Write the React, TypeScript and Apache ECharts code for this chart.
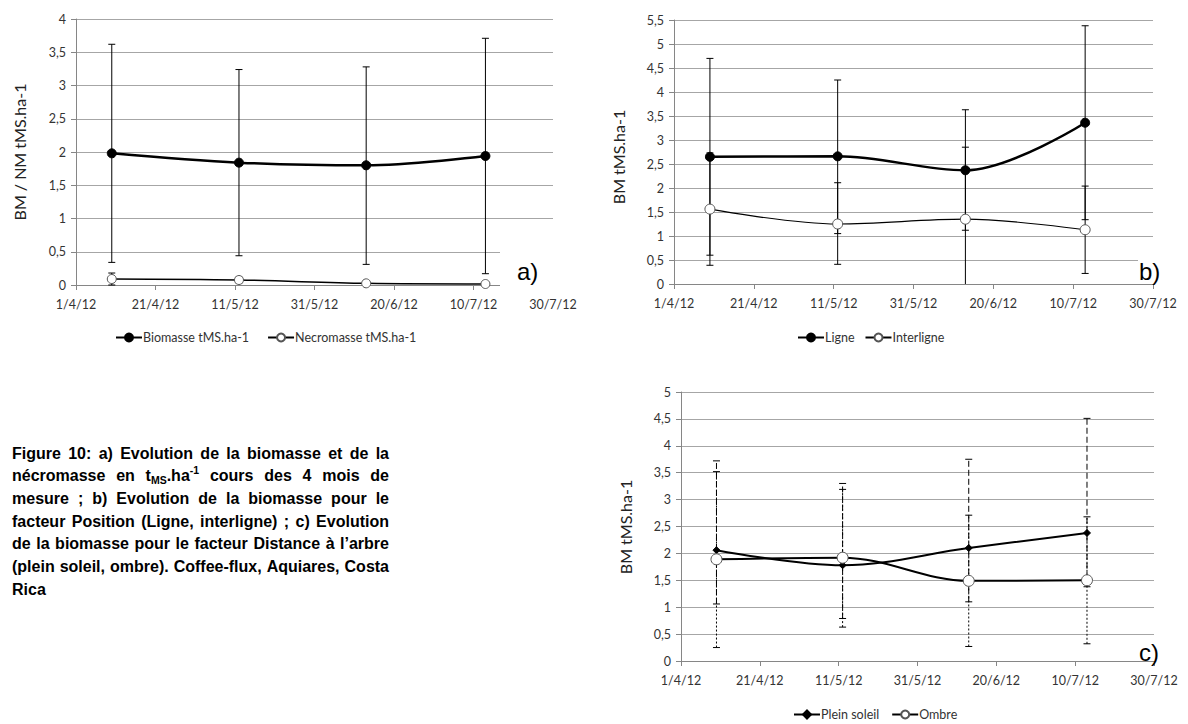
import React, { useEffect, useRef } from 'react';
import * as echarts from 'echarts';

// ---------- data ----------
const dateTickLabels = ['1/4/12', '21/4/12', '11/5/12', '31/5/12', '20/6/12', '10/7/12', '30/7/12'];
const axisStartDate = '2012-04-01';
const sampleDates = ['2012-04-10', '2012-05-12', '2012-06-13', '2012-07-13'];

// a) Biomasse / Necromasse
const biomasse = [1.98, 1.84, 1.8, 1.94];
const biomasseLow = [0.34, 0.44, 0.31, 0.17];
const biomasseHigh = [3.62, 3.24, 3.28, 3.71];
const necromasse = [0.09, 0.075, 0.025, 0.015];
const necromasseLow = [0.0, 0.03, 0.01, 0.0];
const necromasseHigh = [0.18, 0.12, 0.05, 0.03];

// b) Ligne / Interligne
const ligne = [2.65, 2.66, 2.37, 3.36];
const ligneLow = [0.6, 1.05, 1.12, 1.34];
const ligneHigh = [4.7, 4.25, 3.63, 5.38];
const interligne = [1.56, 1.25, 1.35, 1.13];
const interligneLow = [0.39, 0.41, -0.15, 0.22];
const interligneHigh = [2.73, 2.11, 2.85, 2.04];

// c) Plein soleil / Ombre
const pleinSoleil = [2.06, 1.78, 2.1, 2.38];
const pleinSoleilLow = [1.06, 0.79, 1.1, 1.38];
const pleinSoleilHigh = [3.72, 3.3, 3.75, 4.51];
const ombre = [1.89, 1.92, 1.49, 1.5];
const ombreLow = [0.25, 0.63, 0.27, 0.32];
const ombreHigh = [3.52, 3.19, 2.71, 2.68];

const captionLines = [
  'Figure 10: a) Evolution de la biomasse et de la',
  'nécromasse en tMS.ha-1 cours des 4 mois de',
  'mesure ; b) Evolution de la biomasse pour le',
  'facteur Position (Ligne, interligne) ; c) Evolution',
  'de la biomasse pour le facteur Distance à l’arbre',
  '(plein soleil, ombre). Coffee-flux, Aquiares, Costa',
  'Rica',
];
const captionSpecial: Record<string, [string, string][]> = {
  'tMS.ha-1': [['t', 'n'], ['MS', 'sub'], ['.ha', 'n'], ['-1', 'sup']],
};

// ---------- helpers ----------
const FONT = 'Lato';
const dayOf = (s: string) => {
  const [y, m, d] = s.split('-').map(Number);
  const [y0, m0, d0] = axisStartDate.split('-').map(Number);
  return (Date.UTC(y, m - 1, d) - Date.UTC(y0, m0 - 1, d0)) / 86400000;
};
const sampleDays = sampleDates.map(dayOf);

function xAxisFor(gridIndex: number) {
  return {
    type: 'value',
    gridIndex,
    min: 0,
    max: 120,
    interval: 20,
    axisLine: { show: true, onZero: false, lineStyle: { color: '#868686', width: 1 } },
    axisTick: { show: true, length: 5, lineStyle: { color: '#868686' } },
    axisLabel: {
      color: '#333',
      fontFamily: FONT,
      fontSize: 12.5,
      margin: 13,
      showMaxLabel: true,
      formatter: (v: number) => dateTickLabels[Math.round(v / 20)] ?? '',
    },
    splitLine: { show: false },
  };
}

function yAxisFor(gridIndex: number, max: number) {
  return {
    type: 'value',
    gridIndex,
    min: 0,
    max,
    interval: 0.5,
    axisLine: { show: true, lineStyle: { color: '#868686', width: 1 } },
    axisTick: { show: true, length: 5, lineStyle: { color: '#868686' } },
    axisLabel: {
      color: '#333',
      fontFamily: FONT,
      fontSize: 12.5,
      margin: 10,
      formatter: (v: number) => String(Math.round(v * 10) / 10).replace('.', ','),
    },
    splitLine: { show: true, lineStyle: { color: '#a6a6a6', width: 1 } },
  };
}

function lineSeries(
  name: string,
  values: number[],
  gi: number,
  opt: { width: number; filled: boolean; size: number; symbol?: string }
) {
  return {
    type: 'line',
    name,
    xAxisIndex: gi,
    yAxisIndex: gi,
    data: sampleDays.map((d, i) => [d, values[i]]),
    smooth: 0.35,
    symbol: opt.symbol || 'circle',
    symbolSize: opt.size,
    showSymbol: true,
    lineStyle: { color: '#000', width: opt.width },
    itemStyle: {
      color: opt.filled ? '#000' : '#fff',
      borderColor: opt.filled ? '#000' : '#555',
      borderWidth: 1,
    },
    z: 4,
  };
}

function errorSeries(gi: number, low: number[], high: number[], ymin: number, ymax: number, dash?: number[]) {
  return {
    type: 'custom',
    xAxisIndex: gi,
    yAxisIndex: gi,
    silent: true,
    z: 3,
    data: sampleDays.map((d, i) => [d, low[i], high[i]]),
    renderItem: (_p: any, api: any) => {
      const x = api.value(0);
      const lo = api.value(1);
      const hi = api.value(2);
      const loC = Math.max(lo, ymin);
      const hiC = Math.min(hi, ymax);
      const p1 = api.coord([x, loC]);
      const p2 = api.coord([x, hiC]);
      const cap = 3.5;
      const children: any[] = [
        {
          type: 'line',
          shape: { x1: p1[0], y1: p1[1], x2: p2[0], y2: p2[1] },
          style: { stroke: '#000', lineWidth: 1, lineDash: dash || null },
        },
      ];
      if (lo >= ymin) {
        children.push({
          type: 'line',
          shape: { x1: p1[0] - cap, y1: p1[1], x2: p1[0] + cap, y2: p1[1] },
          style: { stroke: '#000', lineWidth: 1 },
        });
      }
      if (hi <= ymax) {
        children.push({
          type: 'line',
          shape: { x1: p2[0] - cap, y1: p2[1], x2: p2[0] + cap, y2: p2[1] },
          style: { stroke: '#000', lineWidth: 1 },
        });
      }
      return { type: 'group', children };
    },
  };
}

function legendFor(names: string[], left: number, top: number, gap: number) {
  return {
    data: names,
    left,
    top,
    orient: 'horizontal',
    itemWidth: 26,
    itemHeight: 10,
    itemGap: gap,
    selectedMode: false,
    textStyle: { color: '#333', fontFamily: FONT, fontSize: 12.5, padding: [0, 0, 0, -4] },
  };
}

function buildCaption(): any[] {
  const canvas = document.createElement('canvas');
  const ctx = canvas.getContext('2d')!;
  const SIZE = 16;
  const SMALL = 10.5;
  const LEFT = 12;
  const RIGHT = 389;
  const Y0 = 453;
  const STEP = 22.7;
  const fontOf = (s: number) => `bold ${s}px "Liberation Sans"`;
  const measure = (t: string, s: number) => {
    ctx.font = fontOf(s);
    return ctx.measureText(t).width;
  };
  const els: any[] = [];
  captionLines.forEach((line, li) => {
    const words = line.split(' ');
    const wordPieces = words.map((w) => {
      const sp = captionSpecial[w];
      const parts = sp ? sp : ([[w, 'n']] as [string, string][]);
      return parts.map(([t, kind]) => {
        const s = kind === 'n' ? SIZE : SMALL;
        return { t, s, dy: kind === 'sub' ? 4 : kind === 'sup' ? -6 : 0, w: measure(t, s) };
      });
    });
    const widths = wordPieces.map((ps) => ps.reduce((a, p) => a + p.w, 0));
    const total = widths.reduce((a, b) => a + b, 0);
    const justify = li < captionLines.length - 1 && words.length > 1;
    const gap = justify ? (RIGHT - LEFT - total) / (words.length - 1) : measure(' ', SIZE);
    let x = LEFT;
    const y = Y0 + li * STEP;
    wordPieces.forEach((ps, wi) => {
      let px = x;
      ps.forEach((p) => {
        els.push({
          type: 'text',
          x: px,
          y: y + p.dy,
          silent: true,
          style: {
            text: p.t,
            fontFamily: 'Liberation Sans',
            fontWeight: 'bold',
            fontSize: p.s,
            fill: '#000',
            align: 'left',
            verticalAlign: 'middle',
          },
        });
        px += p.w;
      });
      x += widths[wi] + gap;
    });
  });
  return els;
}

function buildOption(): any {
  const yTitle = (text: string, x: number, y: number) => ({
    type: 'text',
    x,
    y,
    rotation: Math.PI / 2,
    silent: true,
    style: { text, fontFamily: FONT, fontSize: 16, fill: '#222', align: 'center', verticalAlign: 'middle' },
  });
  const panelLabel = (text: string, x: number, y: number) => ({
    type: 'text',
    x,
    y,
    silent: true,
    z: 20,
    style: { text, fontFamily: 'Liberation Sans', fontSize: 24, fill: '#000', align: 'left', verticalAlign: 'middle' },
  });
  const whiteBox = (x: number, y: number, w: number, h: number) => ({
    type: 'rect',
    shape: { x, y, width: w, height: h },
    silent: true,
    z: 10,
    style: { fill: '#fff' },
  });

  return {
    animation: false,
    backgroundColor: '#fff',
    grid: [
      { left: 76, top: 19, width: 477, height: 266 },
      { left: 674, top: 20, width: 479, height: 264 },
      { left: 681, top: 392, width: 473, height: 269 },
    ],
    xAxis: [xAxisFor(0), xAxisFor(1), xAxisFor(2)],
    yAxis: [yAxisFor(0, 4), yAxisFor(1, 5.5), yAxisFor(2, 5)],
    legend: [
      legendFor(['Biomasse tMS.ha-1', 'Necromasse tMS.ha-1'], 110, 326, 18),
      legendFor(['Ligne', 'Interligne'], 792, 326, 10),
      legendFor(['Plein soleil', 'Ombre'], 788, 703, 12),
    ],
    series: [
      errorSeries(0, biomasseLow, biomasseHigh, 0, 4),
      errorSeries(0, necromasseLow, necromasseHigh, 0, 4),
      lineSeries('Biomasse tMS.ha-1', biomasse, 0, { width: 2.5, filled: true, size: 9 }),
      lineSeries('Necromasse tMS.ha-1', necromasse, 0, { width: 1.5, filled: false, size: 9 }),

      errorSeries(1, ligneLow, ligneHigh, 0, 5.5),
      errorSeries(1, interligneLow, interligneHigh, 0, 5.5),
      lineSeries('Ligne', ligne, 1, { width: 2.5, filled: true, size: 9 }),
      lineSeries('Interligne', interligne, 1, { width: 1.2, filled: false, size: 10 }),

      errorSeries(2, pleinSoleilLow, pleinSoleilHigh, 0, 5, [6, 3]),
      errorSeries(2, ombreLow, ombreHigh, 0, 5, [2, 2]),
      lineSeries('Plein soleil', pleinSoleil, 2, { width: 2, filled: true, size: 7, symbol: 'diamond' }),
      lineSeries('Ombre', ombre, 2, { width: 2, filled: false, size: 11 }),
    ],
    graphic: [
      yTitle('BM / NM tMS.ha-1', 19, 152),
      yTitle('BM tMS.ha-1', 618, 157),
      yTitle('BM tMS.ha-1', 625, 527),
      whiteBox(500, 236, 62, 54),
      whiteBox(1138, 250, 45, 32),
      panelLabel('a)', 517, 271),
      panelLabel('b)', 1139, 271),
      panelLabel('c)', 1139, 652),
      ...buildCaption(),
    ],
  };
}

export default function App() {
  const ref = useRef<HTMLDivElement>(null);
  useEffect(() => {
    const chart = echarts.init(ref.current!, undefined, { renderer: 'svg' });
    chart.setOption(buildOption());
    return () => chart.dispose();
  }, []);
  return (
    <div
      ref={ref}
      style={{ position: 'absolute', left: 0, top: 0, width: 1188, height: 724, background: '#fff' }}
    />
  );
}
